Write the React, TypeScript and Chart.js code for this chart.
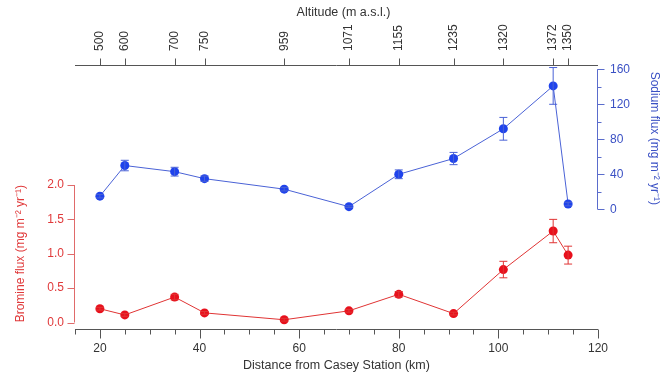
import React, { useEffect, useRef } from 'react';
import { Chart, registerables } from 'chart.js';

Chart.register(...registerables);

// ---- data ----
const distanceKm = [20, 25, 35, 41, 57, 70, 80, 91, 101, 111, 114];
const altitudeLabels = ['500', '600', '700', '750', '959', '1071', '1155', '1235', '1320', '1372', '1350'];
const bromineFlux = [0.2, 0.11, 0.37, 0.14, 0.04, 0.17, 0.41, 0.13, 0.77, 1.33, 0.98];
const bromineErr = [0.02, 0.02, 0.04, 0.02, 0.02, 0.02, 0.04, 0.02, 0.12, 0.17, 0.13];
const sodiumFlux = [15, 50, 43, 35, 23, 3, 40, 58, 92, 141, 6];
const sodiumErr = [2, 6, 5, 3, 2, 1, 5, 7, 13, 21, 2];
const distanceTicks = [20, 40, 60, 80, 100, 120];
const bromineTicks = [0, 0.5, 1, 1.5, 2];
const sodiumTicks = [0, 40, 80, 120, 160];
const topTitle = 'Altitude (m a.s.l.)';

const RED = '#e8101c';
const RED_LINE = '#e03434';
const RED_TEXT = '#e0393a';
const BLUE = '#1f43ec';
const BLUE_LINE = '#4a62d6';
const BLUE_TEXT = '#3a50c4';
const GREY = '#555555';
const FAMILY = 'Liberation Sans, Arial, sans-serif';
const FONT = { family: FAMILY, size: 12 };
const TITLE_FONT = { family: FAMILY, size: 12.5 };

const errorBarPlugin = {
  id: 'errorBars',
  afterDatasetsDraw(chart: any) {
    const ctx = chart.ctx;
    chart.data.datasets.forEach((ds: any, di: number) => {
      const meta = chart.getDatasetMeta(di);
      const ys = chart.scales[ds.yAxisID];
      ctx.save();
      ctx.strokeStyle = ds.errColor;
      ctx.lineWidth = 1;
      ds.data.forEach((p: any, i: number) => {
        const e = ds.errors[i];
        const x = meta.data[i].x;
        const yTop = ys.getPixelForValue(p.y + e);
        const yBot = ys.getPixelForValue(p.y - e);
        ctx.beginPath();
        ctx.moveTo(x, yTop);
        ctx.lineTo(x, yBot);
        ctx.moveTo(x - 4, yTop);
        ctx.lineTo(x + 4, yTop);
        ctx.moveTo(x - 4, yBot);
        ctx.lineTo(x + 4, yBot);
        ctx.stroke();
      });
      ctx.restore();
    });
  },
};

const axesPlugin = {
  id: 'igorAxes',
  afterDraw(chart: any) {
    const ctx = chart.ctx;
    const { x, xTop, yL, yR } = chart.scales;
    const area = chart.chartArea;
    ctx.save();
    ctx.lineWidth = 1;

    // bottom axis
    ctx.strokeStyle = GREY;
    ctx.beginPath();
    const by = Math.round(area.bottom) + 0.5;
    ctx.moveTo(area.left, by);
    ctx.lineTo(area.right, by);
    for (let v = 15; v <= 120; v += 5) {
      const px = Math.round(x.getPixelForValue(v)) + 0.5;
      const len = v % 20 === 0 ? 9 : 5;
      ctx.moveTo(px, by);
      ctx.lineTo(px, by + len);
    }
    ctx.stroke();

    // top axis
    ctx.beginPath();
    const ty = Math.round(area.top) + 0.5;
    ctx.moveTo(area.left, ty);
    ctx.lineTo(area.right, ty);
    distanceKm.forEach((d) => {
      const px = Math.round(xTop.getPixelForValue(d)) + 0.5;
      ctx.moveTo(px, ty);
      ctx.lineTo(px, ty - 7);
    });
    ctx.stroke();

    // top axis labels (altitude), rotated, reading bottom-to-top
    ctx.fillStyle = '#333';
    ctx.font = `12px ${FAMILY}`;
    ctx.textAlign = 'left';
    ctx.textBaseline = 'middle';
    distanceKm.forEach((d, i) => {
      const px = xTop.getPixelForValue(d);
      ctx.save();
      ctx.translate(px, area.top - 14);
      ctx.rotate(-Math.PI / 2);
      ctx.fillText(altitudeLabels[i], 0, 0);
      ctx.restore();
    });
    // top axis title
    ctx.font = `12.5px ${FAMILY}`;
    ctx.textAlign = 'center';
    ctx.fillText(topTitle, (area.left + area.right) / 2 + 7, 13);

    // left axis (bromine)
    ctx.strokeStyle = '#e06a6a';
    ctx.beginPath();
    const lx = Math.round(area.left) - 0.5;
    ctx.moveTo(lx, yL.getPixelForValue(0));
    ctx.lineTo(lx, yL.getPixelForValue(2));
    bromineTicks.forEach((v) => {
      const py = Math.round(yL.getPixelForValue(v)) + 0.5;
      ctx.moveTo(lx, py);
      ctx.lineTo(lx - 7, py);
    });
    ctx.stroke();

    // right axis (sodium)
    ctx.strokeStyle = '#5a6ccc';
    ctx.beginPath();
    const rx = Math.round(area.right) - 0.5;
    ctx.moveTo(rx, yR.getPixelForValue(0));
    ctx.lineTo(rx, yR.getPixelForValue(160));
    for (let v = 0; v <= 160; v += 20) {
      const py = Math.round(yR.getPixelForValue(v)) + 0.5;
      const len = v % 40 === 0 ? 7 : 4;
      ctx.moveTo(rx, py);
      ctx.lineTo(rx + len, py);
    }
    ctx.stroke();
    ctx.restore();
  },
};

export default function App() {
  const ref = useRef<HTMLCanvasElement | null>(null);

  useEffect(() => {
    if (!ref.current) return;
    const chart = new Chart(ref.current, {
      type: 'line',
      data: {
        datasets: [
          {
            label: 'Sodium flux',
            data: distanceKm.map((d, i) => ({ x: d, y: sodiumFlux[i] })),
            errors: sodiumErr,
            errColor: BLUE_LINE,
            yAxisID: 'yR',
            xAxisID: 'x',
            borderColor: BLUE_LINE,
            borderWidth: 1,
            backgroundColor: BLUE,
            pointBackgroundColor: BLUE,
            pointBorderColor: BLUE,
            pointBorderWidth: 0,
            pointRadius: 4.5,
            tension: 0,
          } as any,
          {
            label: 'Bromine flux',
            data: distanceKm.map((d, i) => ({ x: d, y: bromineFlux[i] })),
            errors: bromineErr,
            errColor: RED_LINE,
            yAxisID: 'yL',
            xAxisID: 'x',
            borderColor: RED_LINE,
            borderWidth: 1,
            backgroundColor: RED,
            pointBackgroundColor: RED,
            pointBorderColor: RED,
            pointBorderWidth: 0,
            pointRadius: 4.5,
            tension: 0,
          } as any,
        ],
      },
      options: {
        animation: false,
        responsive: true,
        maintainAspectRatio: false,
        layout: { padding: 0 },
        plugins: { legend: { display: false }, tooltip: { enabled: false } },
        scales: {
          x: {
            type: 'linear',
            position: 'bottom',
            min: 15,
            max: 120,
            afterBuildTicks: (s: any) => {
              s.ticks = distanceTicks.map((v) => ({ value: v }));
            },
            afterFit: (s: any) => {
              s.height = 44;
            },
            grid: { display: false, drawTicks: false },
            border: { display: false },
            ticks: {
              autoSkip: false,
              maxRotation: 0,
              minRotation: 0,
              padding: 12,
              color: '#333',
              font: FONT,
              callback: (v: any) => String(v),
            },
            title: {
              display: true,
              text: 'Distance from Casey Station (km)',
              color: '#333',
              font: TITLE_FONT,
              padding: { top: 0, bottom: 0 },
            },
          },
          xTop: {
            type: 'linear',
            position: 'top',
            min: 15,
            max: 120,
            afterBuildTicks: (s: any) => {
              s.ticks = distanceKm.map((v) => ({ value: v }));
            },
            afterFit: (s: any) => {
              s.height = 65;
            },
            grid: { display: false, drawTicks: false },
            border: { display: false },
            ticks: { display: false },
          },
          yL: {
            type: 'linear',
            position: 'left',
            min: -0.0945,
            max: 3.745,
            afterBuildTicks: (s: any) => {
              s.ticks = bromineTicks.map((v) => ({ value: v }));
            },
            afterFit: (s: any) => {
              s.width = 75;
            },
            grid: { display: false, drawTicks: false },
            border: { display: false },
            ticks: {
              padding: 11,
              color: RED_TEXT,
              font: FONT,
              callback: (v: any) => Number(v).toFixed(1),
            },
            title: {
              display: true,
              align: 'start',
              text: '  Bromine flux (mg m⁻² yr⁻¹)',
              color: RED_TEXT,
              font: FONT,
              padding: { top: 13, bottom: 0 },
            },
          },
          yR: {
            type: 'linear',
            position: 'right',
            min: -136.8,
            max: 164.9,
            afterBuildTicks: (s: any) => {
              s.ticks = sodiumTicks.map((v) => ({ value: v }));
            },
            afterFit: (s: any) => {
              s.width = 68;
            },
            grid: { display: false, drawTicks: false },
            border: { display: false },
            ticks: {
              padding: 12,
              color: BLUE_TEXT,
              font: FONT,
              callback: (v: any) => String(v),
            },
            title: {
              display: true,
              align: 'end',
              text: '  Sodium flux (mg m⁻² yr⁻¹)',
              color: BLUE_TEXT,
              font: FONT,
              padding: { top: 4, bottom: 0 },
            },
          },
        },
      } as any,
      plugins: [errorBarPlugin, axesPlugin],
    });
    return () => chart.destroy();
  }, []);

  return (
    <div style={{ position: 'fixed', left: 0, top: 0, width: 666, height: 373, background: '#fff' }}>
      <canvas ref={ref} />
    </div>
  );
}
